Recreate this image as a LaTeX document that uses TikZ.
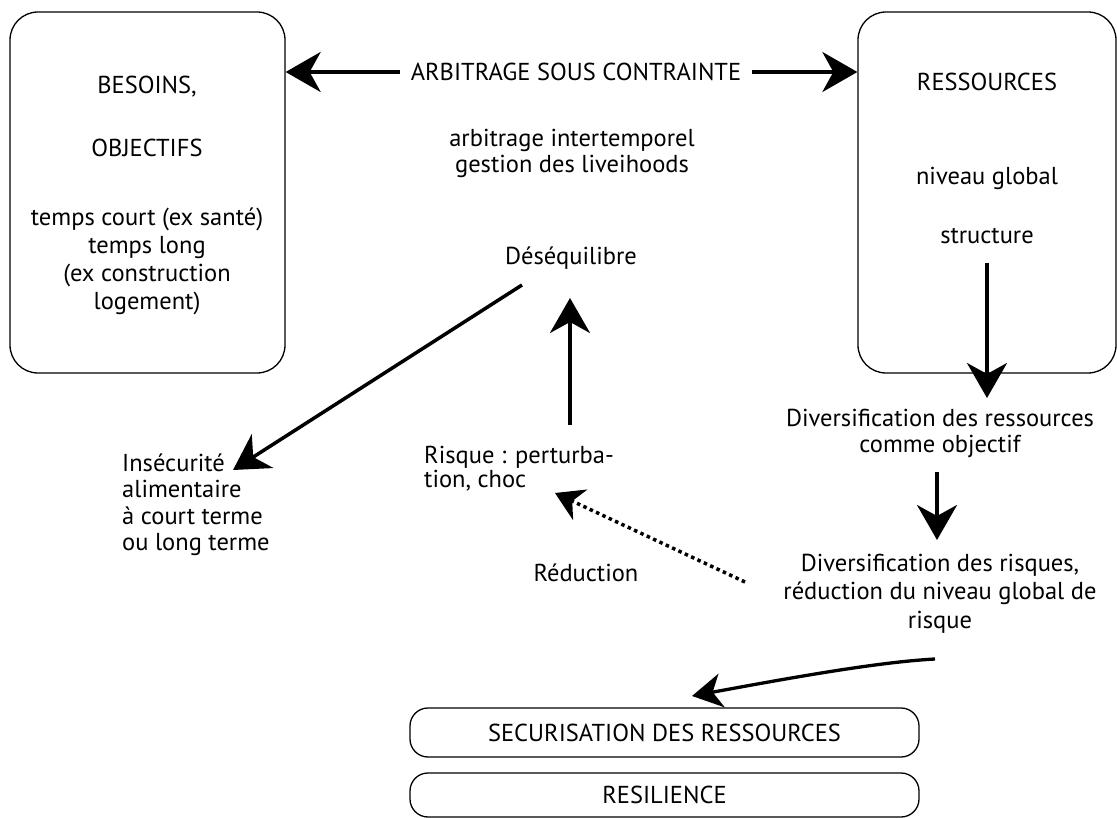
\documentclass[tikz,border=0pt]{standalone}
\usepackage{fontspec}
\setmainfont{PT Sans}
\usetikzlibrary{arrows.meta}
\begin{document}
\begin{tikzpicture}[x=1pt,y=-1pt,
  txt/.style={font=\fontsize{24.5}{28}\selectfont, align=center, inner sep=0pt},
  rbox/.style={draw, line width=1.3pt, rounded corners=28pt},
  pill/.style={draw, line width=1.3pt, rounded corners=18pt},
  big/.style={line width=3.5pt, -{Stealth[length=35pt,width=40pt,inset=11pt]}},
  mid/.style={line width=3.3pt, -{Stealth[length=30pt,width=34pt,inset=9pt]}},
  dotarrow/.style={line width=3.5pt, dash pattern=on 3.5pt off 3.5pt, -{Stealth[length=28pt,width=34pt,inset=9pt,line width=0pt]}}]
\useasboundingbox (0,0) rectangle (1117,818);
\fill[white] (0,0) rectangle (1117,818);

% boxes
\node[rbox, minimum width=275pt, minimum height=361pt] (L) at (147.5,192.5) {};
\node[rbox, minimum width=258pt, minimum height=361pt] (R) at (987,192.5) {};
\node[pill, minimum width=509pt, minimum height=49pt] (sec) at (664.5,732.5) {};
\node[pill, minimum width=509pt, minimum height=44pt] (res) at (664.5,795) {};

% left box text
\node[txt] (besoins) at (147,87) {BESOINS,};
\node[txt] (obj) at (147,148) {OBJECTIFS};
\node[txt, font=\fontsize{24.5}{28}\selectfont] (temps) at (147,261) {temps court (ex santé)\\temps long\\(ex construction\\logement)};

% right box text
\node[txt] (ressources) at (987,82) {RESSOURCES};
\node[txt] (niveau) at (987,178) {niveau global};
\node[txt] (structure) at (987,236) {structure};

% middle texts
\node[txt, inner xsep=11pt] (arb) at (576,72) {ARBITRAGE SOUS CONTRAINTE};
\node[txt, font=\fontsize{24.5}{26}\selectfont] (inter) at (572,153) {arbitrage intertemporel\\gestion des liveihoods};
\node[txt] (deseq) at (571,258) {Déséquilibre};
\node[txt, align=left, anchor=west, font=\fontsize{24.5}{26.5}\selectfont] (insec) at (122,505) {Insécurité\\alimentaire\\à court terme\\ou long terme};
\node[txt, align=left, anchor=west, font=\fontsize{24.5}{24}\selectfont] (risque) at (424,469) {Risque : perturba-\\tion, choc};
\node[txt] (reduc) at (586,573) {Réduction};
\node[txt, font=\fontsize{24.5}{26}\selectfont] (divres) at (940,433) {Diversification des ressources\\comme objectif};
\node[txt, font=\fontsize{24.5}{28.5}\selectfont] (divrisk) at (940,593.5) {Diversification des risques,\\réduction du niveau global de\\risque};
\node[txt] at (sec) {SECURISATION DES RESSOURCES};
\node[txt] at (res) {RESILIENCE};

% connector end points
\coordinate (dsA) at (522,285);
\coordinate (insecTip) at (233,470);
\coordinate (risqueTop) at (570,425);
\coordinate (deseqBot) at (570,298);
\coordinate (strBot) at (987,263);
\coordinate (divresTop) at (987,398);
\coordinate (divresBot) at (937,472);
\coordinate (divriskTop) at (937,540);
\coordinate (dotStart) at (745,582);
\coordinate (risqueTip) at (555,493);
\coordinate (curveStart) at (935,659);
\coordinate (secTip) at (692,696);

% arrows
\draw[big] (arb.west) -- (arb -| L.east);
\draw[big] (arb.east) -- (arb -| R.west);
\draw[big] (dsA) -- (insecTip);
\draw[big] (risqueTop) -- (deseqBot);
\draw[big] (strBot) -- (divresTop);
\draw[big] (divresBot) -- (divriskTop);
\draw[dotarrow] (dotStart) -- (risqueTip);
\draw[mid] (curveStart) .. controls (880,662) and (800,676) .. (secTip);
\end{tikzpicture}
\end{document}
